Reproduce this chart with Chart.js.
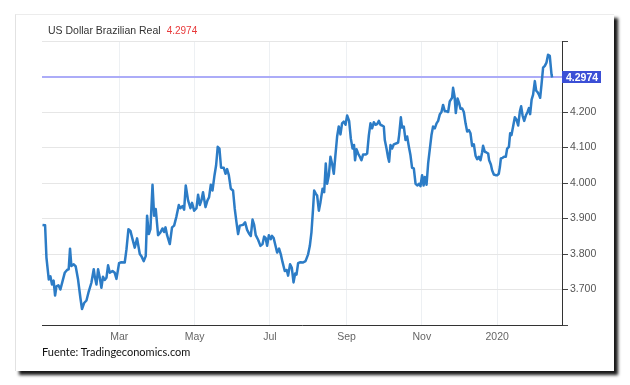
<!DOCTYPE html>
<html><head><meta charset="utf-8">
<script src="https://cdn.jsdelivr.net/npm/chart.js@4/dist/chart.umd.min.js"></script>
<style>
html,body{margin:0;padding:0;background:#fff;width:630px;height:385px;overflow:hidden;}
#card{position:absolute;left:15px;top:14px;width:598px;height:356px;background:#fff;border-left:1px solid #e2e2e2;border-top:1px solid #ececec;box-shadow:4px 4px 3px rgba(0,0,0,0.9);}
#c{position:absolute;left:0;top:0;}
.title{position:absolute;left:48px;top:24px;font:10.5px "Liberation Sans",Arial,sans-serif;color:#333;white-space:nowrap;}
.title span{color:#e8393a;margin-left:6px;font-size:10px;}
.src{position:absolute;left:42px;top:345px;font:11px Lato,sans-serif;color:#111;white-space:nowrap;}
</style></head>
<body>
<div id="card"></div>
<canvas id="c" width="630" height="385"></canvas>
<div class="title">US Dollar Brazilian Real<span>4.2974</span></div>
<div class="src">Fuente: Tradingeconomics.com</div>
<script>
// days since 2019-01-01
const days = [-3.2,-1.1,0,1.9,3.2,4.5,5.8,7.0,8.1,9.7,11.3,13.0,14.8,16.7,18.0,19.1,20.2,22.1,23.7,25.6,27.5,28.8,30.5,32.4,34.3,36.4,38.3,39.2,40.5,41.8,43.1,44.5,45.8,47.2,48.6,49.9,51.3,53.5,55.3,56.7,58.8,60.7,63.4,64.8,66.4,68.0,69.7,71.5,73.4,75.6,
76.9,78.8,80.4,81.5,82.9,84.2,85.9,87.2,88.5,90.4,92.3,94.0,95.3,96.4,97.7,99.9,101.7,103.4,105.3,107.2,108.5,110.2,111.5,112.8,114.7,116.6,117.9,119.6,121.5,122.8,124.2,125.5,126.8,128.8,130.4,131.7,133.1,134.5,136.1,137.4,138.7,140.1,141.4,143.6,145.0,146.3,147.7,149.3,151.1,152.5,153.9,155.2,156.6,159.2,160.9,162.5,164.0,
165.5,166.9,168.2,169.5,171.4,173.3,175.0,176.3,177.5,178.7,180.1,181.7,182.7,184.0,185.5,186.8,188.4,189.8,191.2,193.0,194.6,195.7,197.3,198.7,200.1,201.4,202.5,203.8,205.7,207.8,209.8,211.9,213.3,214.6,215.9,216.8,218.1,219.2,220.6,221.9,223.6,224.9,226.2,227.3,228.7,230.0,231.3,232.7,234.0,235.4,236.7,238.1,239.4,240.8,242.2,243.5,245.1,
246.5,247.9,249.1,249.9,251.1,252.4,253.8,255.1,256.4,258.4,259.7,261.1,262.4,263.7,265.1,266.5,267.8,269.2,270.5,271.8,273.2,274.0,275.4,276.7,277.5,278.6,279.9,281.3,283.5,284.8,285.6,287.0,288.0,289.4,290.8,292.1,293.5,294.8,296.1,297.5,298.9,300.5,301.8,302.9,304.2,305.4,306.4,307.8,309.1,310.5,311.8,313.1,314.5,315.9,317.2,318.6,319.9,321.2,322.6,324.0,325.3,326.6,328.5,329.3,330.5,
331.5,332.9,334.2,335.3,336.7,338.0,339.4,340.7,342.1,343.4,344.7,346.1,347.5,348.8,350.2,351.5,352.8,353.6,355.0,356.3,357.7,358.5,359.9,360.9,362.3,363.7,365.0,366.3,367.2,368.0,369.4,370.6,372.0,373.1,374.5,375.5,376.6,377.9,379.3,380.7,382.0,383.4,384.4,385.6,386.9,388.2,389.6,390.7,391.7,392.9,394.1,395.5,396.6,397.7,398.8,399.8,400.9,402.2,403.6,404.9,406.2,407.6,409.0,409.5];
const values = [3.882,3.881,3.790,3.728,3.737,3.714,3.725,3.683,3.709,3.712,3.700,3.723,3.747,3.755,3.757,3.815,3.766,3.771,3.765,3.728,3.676,3.645,3.662,3.669,3.695,3.719,3.757,3.735,3.714,3.757,3.735,3.705,3.736,3.727,3.733,3.768,3.747,3.752,3.747,3.730,3.774,3.777,3.776,3.813,3.870,3.865,3.842,3.818,3.844,3.800,
3.794,3.780,3.794,3.908,3.856,3.870,3.995,3.908,3.927,3.853,3.861,3.872,3.862,3.875,3.853,3.828,3.875,3.880,3.906,3.938,3.929,3.935,3.925,3.993,3.951,3.929,3.944,3.922,3.929,3.967,3.938,3.951,3.974,3.932,3.951,3.960,3.995,3.979,4.022,4.050,4.102,4.097,4.043,4.043,4.026,4.039,4.022,3.984,3.979,3.927,3.889,3.856,3.880,3.882,3.889,3.868,3.858,
3.851,3.897,3.882,3.853,3.840,3.823,3.828,3.849,3.845,3.823,3.853,3.842,3.851,3.845,3.823,3.804,3.815,3.799,3.777,3.752,3.755,3.739,3.771,3.761,3.720,3.745,3.742,3.774,3.777,3.776,3.780,3.799,3.823,3.861,3.927,3.979,3.970,3.965,3.922,3.946,3.984,3.974,4.055,3.998,4.022,4.074,4.055,4.026,4.078,4.131,4.159,4.137,4.168,4.173,4.164,4.190,4.175,
4.125,4.097,4.107,4.064,4.095,4.083,4.074,4.064,4.080,4.080,4.083,4.135,4.168,4.154,4.171,4.164,4.166,4.175,4.164,4.162,4.159,4.121,4.097,4.071,4.060,4.107,4.097,4.109,4.112,4.114,4.135,4.185,4.156,4.159,4.121,4.131,4.102,4.078,4.043,4.041,3.998,3.993,3.998,3.991,4.022,3.993,4.017,3.995,4.055,4.097,4.135,4.159,4.154,4.168,4.175,4.194,4.200,4.220,4.202,4.202,4.200,4.230,4.240,4.268,4.244,
4.197,4.238,4.225,4.209,4.210,4.200,4.168,4.145,4.149,4.140,4.105,4.109,4.077,4.067,4.074,4.064,4.086,4.105,4.088,4.086,4.083,4.064,4.052,4.036,4.024,4.022,4.022,4.026,4.045,4.069,4.071,4.074,4.074,4.097,4.102,4.140,4.135,4.159,4.185,4.178,4.162,4.202,4.216,4.190,4.175,4.190,4.200,4.211,4.194,4.235,4.249,4.287,4.260,4.256,4.249,4.240,4.277,4.325,4.330,4.339,4.361,4.358,4.306,4.2974];

const lastValue = 4.2974;
const xTickDays = [59,120,181,243,304,365];
const xTickLabels = ['Mar','May','Jul','Sep','Nov','2020'];
const yTickValues = [3.6,3.7,3.8,3.9,4.0,4.1,4.2,4.4];
const yTickLabels = ['','3.700','3.800','3.900','4.000','4.100','4.200',''];

const lastValuePlugin = {
  id:'lastValue',
  beforeDatasetsDraw(chart){
    const {ctx, chartArea:a, scales:{y}} = chart;
    const py = Math.round(y.getPixelForValue(lastValue));
    ctx.save();
    ctx.fillStyle='rgb(172,172,248)';
    ctx.fillRect(a.left, py-1, a.right-a.left, 2);
    ctx.restore();
  },
  afterDraw(chart){
    const {ctx, chartArea:a, scales:{y}} = chart;
    const py = y.getPixelForValue(lastValue);
    ctx.save();
    ctx.fillStyle='#3b4fd6';
    ctx.fillRect(a.right, Math.round(py-6), 39, 12);
    ctx.fillStyle='#fff';
    ctx.font='bold 10.5px "Liberation Sans", Arial, sans-serif';
    ctx.textAlign='center';ctx.textBaseline='middle';
    ctx.fillText(lastValue.toFixed(4), a.right+20, py+0.5);
    ctx.restore();
  }
};

new Chart(document.getElementById('c'), {
  type:'line',
  data:{datasets:[{data:days.map((d,i)=>({x:d,y:values[i]})), borderColor:'#2c7cc6', borderWidth:2.5, pointRadius:0, tension:0, fill:false, borderJoinStyle:'round'}]},
  options:{
    responsive:false, animation:false, events:[],
    layout:{padding:{left:42,top:41,right:18,bottom:35}},
    plugins:{legend:{display:false},tooltip:{enabled:false},title:{display:false}},
    scales:{
      x:{type:'linear', min:-3.6, max:417.5,
        afterBuildTicks:s=>{s.ticks=xTickDays.map(v=>({value:v}));},
        afterFit:s=>{s.height=25;},
        ticks:{callback:(v,i)=>xTickLabels[i], padding:6, color:'#666', font:{family:'"Liberation Sans", Arial, sans-serif', size:10.5}, maxRotation:0, autoSkip:false},
        grid:{color:'#edf0f3', drawTicks:false},
        border:{color:'#333', width:1}
      },
      y:{position:'right', min:3.6, max:4.4,
        afterBuildTicks:s=>{s.ticks=yTickValues.map(v=>({value:v}));},
        afterFit:s=>{s.width=50;},
        ticks:{callback:(v,i)=>yTickLabels[i], padding:2, color:'#555', font:{family:'"Liberation Sans", Arial, sans-serif', size:10.5}, autoSkip:false},
        grid:{color:'#e6e6e6', tickColor:'#444', tickLength:6},
        border:{color:'#333', width:1}
      }
    }
  },
  plugins:[lastValuePlugin]
});
</script>
</body></html>
